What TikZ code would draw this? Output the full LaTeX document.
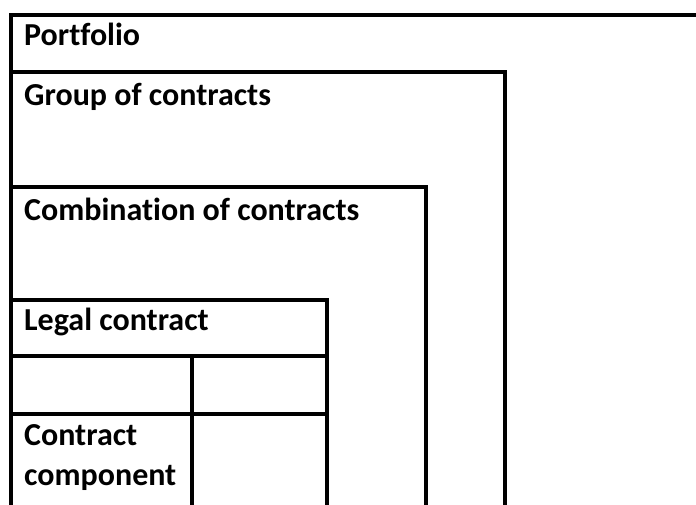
\documentclass[tikz,border=0pt]{standalone}
\usepackage{fontspec}
\setmainfont{Carlito}[Ligatures=NoCommon]
\begin{document}
\begin{tikzpicture}[x=1pt,y=-1pt,
  frame/.style={draw=black,line width=3.2pt},
  lbl/.style={anchor=base west,inner sep=0pt,font=\fontsize{32}{40}\selectfont\bfseries,align=left}]
\useasboundingbox (0,0) rectangle (696,504);
\clip (0,0) rectangle (696,504);
% outer portfolio frame
\draw[frame] (11,530) -- (11,15) -- (720,15);
% group of contracts
\draw[frame] (11,72) -- (505,72) -- (505,530);
% combination of contracts
\draw[frame] (11,187) -- (426,187) -- (426,530);
% legal contract
\draw[frame] (11,300) -- (327,300) -- (327,530);
\draw[frame] (11,356) -- (327,356);
\draw[frame] (11,414) -- (327,414);
\draw[frame] (192,356) -- (192,530);
% labels
\node[lbl] (portfolio) at (24,45) {Portfolio};
\node[lbl] (group) at (24,105) {Group of contracts};
\node[lbl] (combination) at (24,220) {Combination of contracts};
\node[lbl] (legal) at (24,330) {Legal contract};
\node[lbl] (component) at (24,485) {Contract\\component};
\end{tikzpicture}
\end{document}
